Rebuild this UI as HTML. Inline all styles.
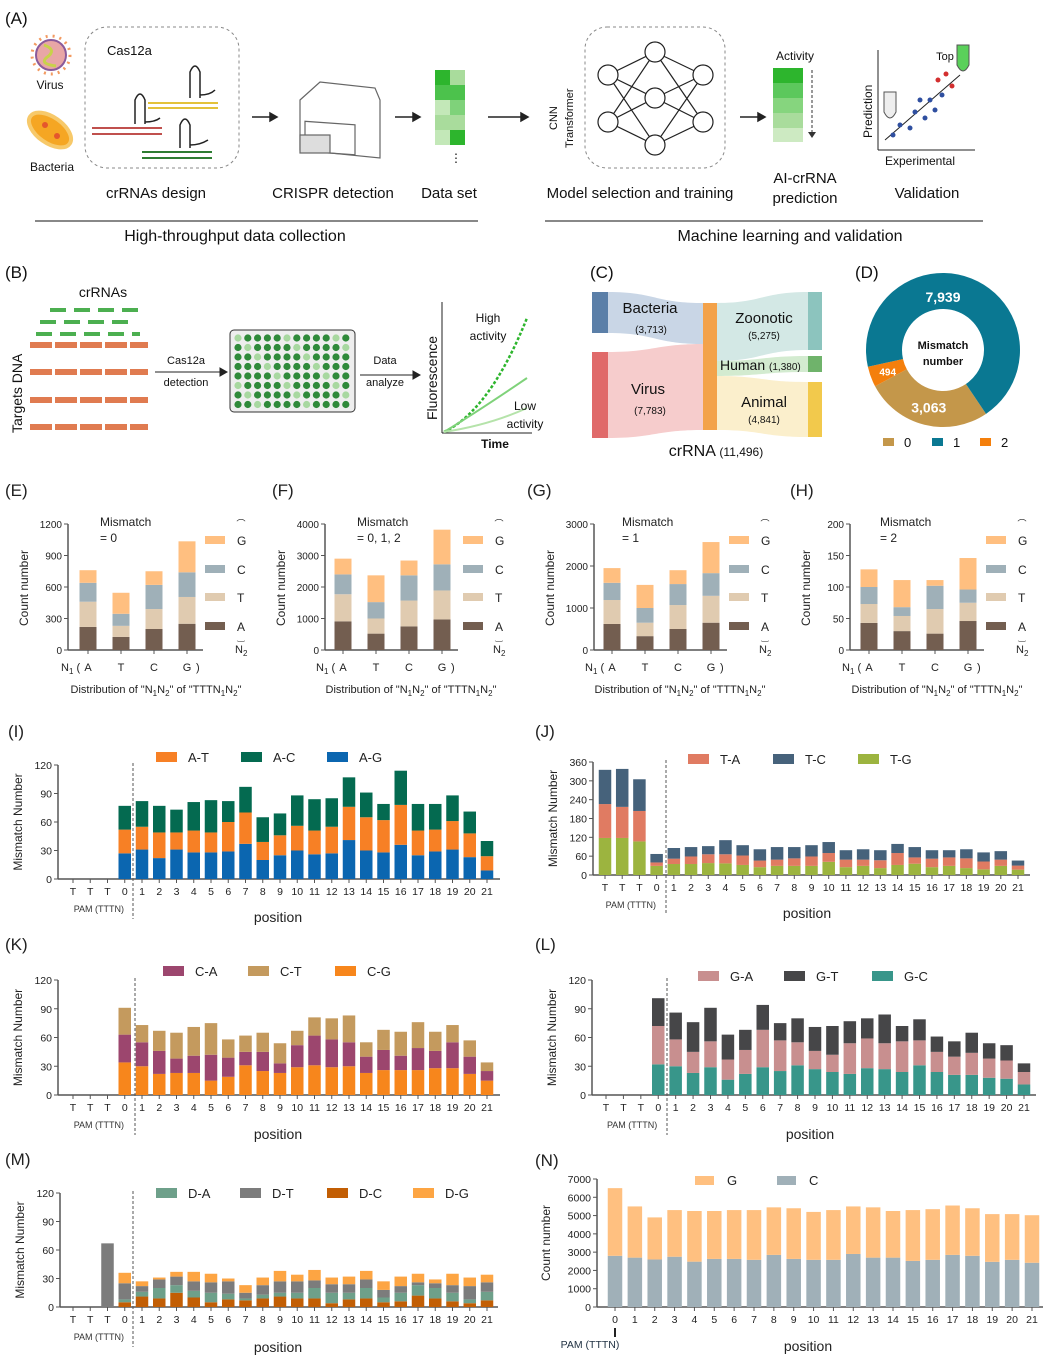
<!DOCTYPE html>
<html><head><meta charset="utf-8"><style>
html,body{margin:0;padding:0;background:#fff}
svg{display:block;font-family:"Liberation Sans",sans-serif}
</style></head><body>
<svg id="fig" xmlns="http://www.w3.org/2000/svg" width="1053" height="1365" viewBox="0 0 1053 1365">
<g id="top" font-size="15" fill="#111">
<text x="5" y="24" font-size="17">(A)</text>
<g>
<circle cx="51" cy="55" r="19" fill="none" stroke="#f39a60" stroke-width="3" stroke-dasharray="2 5"/>
<circle cx="51" cy="55" r="15" fill="#e8a6a6" stroke="#8a5a9a" stroke-width="2"/>
<path d="M44 45 Q58 50 46 58 Q40 64 56 66" stroke="#c8d24a" stroke-width="3" fill="none"/>
</g>
<text x="50" y="89" font-size="12" text-anchor="middle">Virus</text>
<g>
<ellipse cx="50" cy="130" rx="24" ry="13" transform="rotate(35 50 130)" fill="#f5a623" stroke="#f7c96a" stroke-width="4"/>
<circle cx="45" cy="125" r="3" fill="#e5572c"/><circle cx="57" cy="136" r="3" fill="#e5572c"/>
</g>
<text x="52" y="171" font-size="12" text-anchor="middle">Bacteria</text>
<rect x="85" y="27" width="154" height="141" rx="22" fill="none" stroke="#888" stroke-dasharray="3 3"/>
<text x="107" y="55" font-size="13">Cas12a</text>
<g stroke-width="2" fill="none">
<line x1="148" y1="103" x2="218" y2="103" stroke="#e3c23a"/><line x1="148" y1="108" x2="218" y2="108" stroke="#e3c23a"/>
<line x1="92" y1="128" x2="162" y2="128" stroke="#c0504d"/><line x1="92" y1="134" x2="162" y2="134" stroke="#c0504d"/>
<line x1="142" y1="152" x2="212" y2="152" stroke="#2e7d32"/><line x1="142" y1="158" x2="212" y2="158" stroke="#2e7d32"/>
<path d="M190 98 V72 Q195 60 200 72 V98 M200 95 Q210 95 215 90" stroke="#222" stroke-width="1.5"/>
<path d="M135 124 V100 Q140 88 145 100 V124 M145 122 Q155 122 160 118" stroke="#222" stroke-width="1.5"/>
<path d="M180 148 V125 Q185 113 190 125 V148 M190 145 Q200 145 208 140" stroke="#222" stroke-width="1.5"/>
</g>
<text x="156" y="198" text-anchor="middle">crRNAs design</text>
<g stroke="#222" stroke-width="1.5" fill="#222"><line x1="252" y1="117" x2="270" y2="117"/><path d="M270 113 L277 117 L270 121Z"/></g>
<g fill="none" stroke="#666" stroke-width="1.2">
<path d="M300 100 L320 82 L375 88 L380 100 L380 158 L300 150 Z"/>
<rect x="305" y="100" width="50" height="30" transform="skewY(4)"/>
<rect x="300" y="135" width="30" height="18" fill="#ddd"/>
</g>
<text x="333" y="198" text-anchor="middle">CRISPR detection</text>
<g stroke="#222" stroke-width="1.5" fill="#222"><line x1="395" y1="117" x2="413" y2="117"/><path d="M413 113 L420 117 L413 121Z"/></g>
<g>
<rect x="435" y="70" width="15" height="15" fill="#2db52d"/><rect x="450" y="70" width="15" height="15" fill="#a9dc9c"/>
<rect x="435" y="85" width="30" height="15" fill="#4cc24c"/>
<rect x="435" y="100" width="15" height="15" fill="#c3e8b8"/><rect x="450" y="100" width="15" height="15" fill="#7fd27a"/>
<rect x="435" y="115" width="30" height="15" fill="#a9dc9c"/>
<rect x="435" y="130" width="15" height="15" fill="#c3e8b8"/><rect x="450" y="130" width="15" height="15" fill="#2db52d"/>
<text x="456" y="162" font-size="12" text-anchor="middle">⋮</text>
</g>
<text x="449" y="198" text-anchor="middle">Data set</text>
<line x1="35" y1="221" x2="478" y2="221" stroke="#111"/>
<text x="235" y="241" font-size="16" text-anchor="middle">High-throughput data collection</text>
<g stroke="#222" stroke-width="1.5" fill="#222"><line x1="488" y1="117" x2="521" y2="117"/><path d="M521 113 L528 117 L521 121Z"/></g>
<text transform="translate(557,130) rotate(-90)" font-size="11">CNN</text>
<text transform="translate(573,148) rotate(-90)" font-size="11">Transformer</text>
<rect x="585" y="27" width="140" height="141" rx="22" fill="none" stroke="#888" stroke-dasharray="3 3"/>
<g id="net" fill="#fff" stroke="#222" stroke-width="1.2"></g>
<text x="640" y="198" text-anchor="middle">Model selection and training</text>
<g stroke="#222" stroke-width="1.5" fill="#222"><line x1="740" y1="117" x2="758" y2="117"/><path d="M758 113 L765 117 L758 121Z"/></g>
<text x="795" y="60" font-size="12" text-anchor="middle">Activity</text>
<g>
<rect x="773" y="68" width="30" height="15" fill="#2db52d"/><rect x="773" y="83" width="30" height="15" fill="#5cc85c"/>
<rect x="773" y="98" width="30" height="15" fill="#86d57e"/><rect x="773" y="113" width="30" height="15" fill="#a9dc9c"/>
<rect x="773" y="128" width="30" height="14" fill="#cdeac2"/></g>
<line x1="812" y1="70" x2="812" y2="132" stroke="#333" stroke-dasharray="3 2"/><path d="M808 132 L812 138 L816 132Z" fill="#333"/>
<text x="805" y="183" text-anchor="middle">AI-crRNA</text>
<text x="805" y="203" text-anchor="middle">prediction</text>
<g>
<line x1="878" y1="50" x2="878" y2="150" stroke="#222"/><line x1="878" y1="150" x2="975" y2="150" stroke="#222"/>
<line x1="885" y1="140" x2="960" y2="75" stroke="#222"/>
<g fill="#2f4fa0"><circle cx="893" cy="135" r="2.5"/><circle cx="900" cy="125" r="2.5"/><circle cx="910" cy="128" r="2.5"/><circle cx="915" cy="112" r="2.5"/><circle cx="925" cy="118" r="2.5"/><circle cx="930" cy="100" r="2.5"/><circle cx="935" cy="110" r="2.5"/><circle cx="942" cy="95" r="2.5"/><circle cx="920" cy="100" r="2.5"/></g>
<g fill="#d32f2f"><circle cx="938" cy="80" r="2.5"/><circle cx="946" cy="74" r="2.5"/><circle cx="952" cy="86" r="2.5"/></g>
<path d="M957 45 h12 v20 q-6 12 -12 0Z" fill="#5ad05a" stroke="#555"/>
<path d="M884 92 h12 v20 q-6 12 -12 0Z" fill="#eee" stroke="#555"/>
</g>
<text x="945" y="60" font-size="11" text-anchor="middle">Top</text>
<text transform="translate(872,138) rotate(-90)" font-size="12">Prediction</text>
<text x="920" y="165" font-size="12" text-anchor="middle">Experimental</text>
<text x="927" y="198" text-anchor="middle">Validation</text>
<line x1="545" y1="221" x2="983" y2="221" stroke="#111"/>
<text x="790" y="241" font-size="16" text-anchor="middle">Machine learning and validation</text>

<text x="5" y="278" font-size="17">(B)</text>
<text x="103" y="297" font-size="14" text-anchor="middle">crRNAs</text>
<g stroke="#4caf50" stroke-width="4" stroke-dasharray="16 8">
<line x1="50" y1="310" x2="140" y2="310"/><line x1="40" y1="322" x2="135" y2="322"/><line x1="36" y1="334" x2="140" y2="334"/></g>
<g stroke="#e07b50" stroke-width="6" stroke-dasharray="22 3">
<line x1="30" y1="345" x2="148" y2="345"/><line x1="30" y1="372" x2="148" y2="372"/><line x1="30" y1="400" x2="148" y2="400"/><line x1="30" y1="427" x2="148" y2="427"/></g>
<text transform="translate(22,433) rotate(-90)" font-size="14">Targets DNA</text>
<g stroke="#222" fill="#222"><line x1="155" y1="372" x2="220" y2="372"/><path d="M220 368 L227 372 L220 376Z"/></g>
<text x="186" y="364" font-size="11" text-anchor="middle">Cas12a</text>
<text x="186" y="386" font-size="11" text-anchor="middle">detection</text>
<rect x="230" y="330" width="125" height="82" rx="4" fill="#eee" stroke="#333"/>
<g id="wells"></g>
<g stroke="#222" fill="#222"><line x1="360" y1="375" x2="413" y2="375"/><path d="M413 371 L420 375 L413 379Z"/></g>
<text x="385" y="364" font-size="11" text-anchor="middle">Data</text>
<text x="385" y="386" font-size="11" text-anchor="middle">analyze</text>
<g>
<line x1="442" y1="302" x2="442" y2="433" stroke="#222"/><line x1="442" y1="433" x2="532" y2="433" stroke="#222"/>
<path d="M444 432 Q490 410 527 318" stroke="#2db52d" stroke-width="2.5" stroke-dasharray="3 2" fill="none"/>
<path d="M444 432 Q480 410 527 378" stroke="#7fd27a" stroke-width="2" fill="none"/>
<path d="M444 432 Q490 425 527 408" stroke="#b5e3aa" stroke-width="2" fill="none"/>
</g>
<text transform="translate(437,420) rotate(-90)" font-size="14">Fluorescence</text>
<text x="495" y="448" font-size="12" font-weight="bold" text-anchor="middle">Time</text>
<text x="488" y="322" font-size="12" text-anchor="middle">High</text>
<text x="488" y="340" font-size="12" text-anchor="middle">activity</text>
<text x="525" y="410" font-size="12" text-anchor="middle">Low</text>
<text x="525" y="428" font-size="12" text-anchor="middle">activity</text>

<text x="590" y="278" font-size="17">(C)</text>
<g>
<path d="M608 292 C655 292 655 303 703 303 L703 344 C655 344 655 333 608 333Z" fill="#c9d6e6"/>
<path d="M608 352 C655 352 655 344 703 344 L703 430 C655 430 655 438 608 438Z" fill="#f6cccc"/>
<path d="M717 303 C762 303 762 292 808 292 L808 350 C762 350 762 361 717 361Z" fill="#d3e8e5"/>
<path d="M717 361 C762 361 762 356 808 356 L808 372 C762 372 762 376 717 376Z" fill="#d3ebd0"/>
<path d="M717 376 C762 376 762 382 808 382 L808 437 C762 437 762 430 717 430Z" fill="#fbefcc"/>
<rect x="592" y="292" width="16" height="41" fill="#5b7fa8"/>
<rect x="592" y="352" width="16" height="86" fill="#e06a6a"/>
<rect x="703" y="303" width="14" height="127" fill="#f3a24a"/>
<rect x="808" y="292" width="14" height="58" fill="#8cc4be"/>
<rect x="808" y="356" width="14" height="16" fill="#6fb36b"/>
<rect x="808" y="382" width="14" height="55" fill="#f2c94c"/>
</g>
<text x="650" y="313" text-anchor="middle">Bacteria</text>
<text x="651" y="333" font-size="10" text-anchor="middle">(3,713)</text>
<text x="648" y="394" text-anchor="middle">Virus</text>
<text x="650" y="414" font-size="10" text-anchor="middle">(7,783)</text>
<text x="764" y="323" text-anchor="middle">Zoonotic</text>
<text x="764" y="339" font-size="10" text-anchor="middle">(5,275)</text>
<text x="720" y="370" font-size="14">Human <tspan font-size="10">(1,380)</tspan></text>
<text x="764" y="407" text-anchor="middle">Animal</text>
<text x="764" y="423" font-size="10" text-anchor="middle">(4,841)</text>
<text x="716" y="456" font-size="16" text-anchor="middle">crRNA <tspan font-size="12">(11,496)</tspan></text>

<text x="855" y="278" font-size="17">(D)</text>
<g id="donut"></g>
<text x="943" y="349" font-size="11" font-weight="bold" text-anchor="middle">Mismatch</text>
<text x="943" y="365" font-size="11" font-weight="bold" text-anchor="middle">number</text>
<g font-size="13">
<rect x="883" y="438" width="11" height="8" fill="#c4974a"/><text x="904" y="447">0</text>
<rect x="932" y="438" width="11" height="8" fill="#0a7892"/><text x="953" y="447">1</text>
<rect x="980" y="438" width="11" height="8" fill="#f47f0c"/><text x="1001" y="447">2</text></g>
</g>
<g id="charts"></g>
</svg>
<script>
const donutLabels = ['0','1','2'];
const donutValues = [3063, 7939, 494];
const n1Cats = ['A','T','C','G'];
const eA=[220,125,200,250], eT=[240,105,190,255], eC=[180,115,230,235], eG=[120,200,130,295];
const fA=[910,520,750,970], fT=[860,480,820,920], fC=[630,520,800,830], fG=[500,850,470,1100];
const gA=[620,330,500,650], gT=[570,320,570,640], gC=[410,350,500,540], gG=[350,550,330,740];
const hA=[43,30,26,46], hT=[30,24,39,29], hC=[27,14,37,21], hG=[28,43,9,50];
const eTicks=[0,300,600,900,1200], fTicks=[0,1000,2000,3000,4000], gTicks=[0,1000,2000,3000], hTicks=[0,50,100,150,200];
const posCats=['T','T','T','0','1','2','3','4','5','6','7','8','9','10','11','12','13','14','15','16','17','18','19','20','21'];
const iAG=[0,0,0,27,31,22,31,28,28,29,37,20,25,30,26,27,41,30,28,36,25,29,31,23,9];
const iAT=[0,0,0,25,24,27,18,23,21,31,33,19,21,26,25,28,35,35,34,42,26,23,30,25,15];
const iAC=[0,0,0,25,27,28,24,30,34,22,27,26,23,32,33,30,31,26,17,36,28,27,27,23,16];
const jTG=[118,118,107,29,35,35,38,37,32,25,29,29,29,42,25,29,22,32,36,25,29,22,18,29,17];
const jTA=[108,99,97,11,17,24,28,29,30,21,20,24,30,28,24,20,25,38,20,27,27,31,25,20,13];
const jTC=[109,121,101,27,34,30,26,45,33,36,40,36,36,35,30,33,32,29,33,27,23,29,29,27,16];
const kCG=[0,0,0,34,30,22,23,23,15,19,31,25,23,29,31,29,30,23,26,26,26,28,28,22,15];
const kCA=[0,0,0,29,25,24,15,18,27,20,14,20,10,23,31,29,25,17,21,15,23,18,27,18,10];
const kCT=[0,0,0,28,18,21,27,30,33,19,17,20,21,15,19,22,28,15,21,25,27,20,18,17,9];
const lGC=[0,0,0,32,30,23,29,16,22,29,25,31,27,24,22,28,27,24,31,24,21,21,18,17,11];
const lGA=[0,0,0,40,28,22,27,21,25,39,32,24,19,18,32,31,27,32,26,21,19,23,20,19,13];
const lGT=[0,0,0,29,28,31,35,26,21,26,18,25,25,30,23,21,30,16,22,16,16,21,16,16,9];
const mDC=[0,0,0,5,11,9,15,10,5,8,7,9,11,9,9,4,8,9,5,6,12,9,6,4,7];
const mDA=[0,0,0,3,5,11,8,7,10,6,2,4,4,6,11,11,7,11,5,9,11,11,9,4,9];
const mDT=[0,0,67,17,6,9,9,10,11,13,6,10,12,12,8,9,9,9,8,7,3,5,8,14,10];
const mDG=[0,0,0,11,5,2,5,10,9,3,8,8,11,7,11,7,8,9,9,10,9,4,12,9,8];
const ticks120=[0,30,60,90,120], ticks360=[0,60,120,180,240,300,360];
const nCats=['0','1','2','3','4','5','6','7','8','9','10','11','12','13','14','15','16','17','18','19','20','21'];
const nC=[2800,2700,2600,2750,2480,2630,2630,2580,2850,2630,2580,2580,2900,2700,2700,2520,2580,2850,2800,2470,2580,2420];
const nG=[3700,2800,2300,2550,2770,2620,2670,2720,2600,2770,2620,2720,2600,2750,2550,2780,2770,2700,2600,2610,2500,2600];
const nTicks=[0,1000,2000,3000,4000,5000,6000,7000];

const NS='http://www.w3.org/2000/svg';
const root=document.getElementById('charts');
function mk(tag,attrs,parent){const e=document.createElementNS(NS,tag);for(const k in attrs)e.setAttribute(k,attrs[k]);(parent||root).appendChild(e);return e;}
function txt(x,y,s,size,anchor,parent,extra){const t=mk('text',Object.assign({x:x,y:y,'font-size':size,'text-anchor':anchor||'start',fill:'#222'},extra||{}),parent);t.textContent=s;return t;}

(function(){const g=document.getElementById('net');
const L=[[[608,75],[608,122]],[[655,52],[655,98],[655,145]],[[703,75],[703,122]]];
for(let a=0;a<2;a++)for(const p of L[a])for(const q of L[a+1]){mk('line',{x1:p[0],y1:p[1],x2:q[0],y2:q[1]},g);}
for(const col of L)for(const p of col){mk('circle',{cx:p[0],cy:p[1],r:10},g);}})();
(function(){const g=document.getElementById('wells');
for(let r=0;r<8;r++)for(let c=0;c<12;c++){const w=mk('circle',{cx:238+c*9.8,cy:338+r*9.5,r:3.6,fill:((r*7+c*3)%5==0)?'#a8d8a0':'#2f8a3a'},g);

}})();
(function(){const g=document.getElementById('donut');const cx=943,cy=350,R=77,r=41;
const cols=['#c4974a','#0a7892','#f47f0c'];const tot=donutValues.reduce((a,b)=>a+b,0);
const order=[0,2,1];let ang=146;const pos={};
for(const i of order){const sw=donutValues[i]/tot*360;const a1=ang,a2=ang+sw;
const p=(A,rad)=>[cx+rad*Math.sin(A*Math.PI/180),cy-rad*Math.cos(A*Math.PI/180)];
const [x1,y1]=p(a1,R),[x2,y2]=p(a2,R),[x3,y3]=p(a2,r),[x4,y4]=p(a1,r);const lg=sw>180?1:0;
const s=mk('path',{d:`M${x1} ${y1}A${R} ${R} 0 ${lg} 1 ${x2} ${y2}L${x3} ${y3}A${r} ${r} 0 ${lg} 0 ${x4} ${y4}Z`,fill:cols[i]},g);


pos[i]=p((a1+a2)/2,(R+r)/2);ang=a2;}
const lbl=[['3,063',pos[0],14],['7,939',[943,297],14],['494',pos[2],10]];
for(const [s,p,fs] of lbl){const t=txt(p[0],p[1]+5,s,fs,'middle',g,{fill:'#fff','font-weight':'bold'});

}})();

function stacked(c){
const g=mk('g',{});
const max=c.ticks[c.ticks.length-1];const ys=v=>c.y0-(v/max)*(c.y0-c.ytop);const xs=i=>c.x0+i*c.step;
const ax=mk('line',{x1:c.axisX,y1:c.ytop,x2:c.axisX,y2:c.y0,stroke:'#555','stroke-width':1.5},g);

const bx=mk('line',{x1:c.axisX,y1:c.y0,x2:c.xEnd,y2:c.y0,stroke:'#555','stroke-width':1.5},g);

for(const t of c.ticks){mk('line',{x1:c.axisX-4,y1:ys(t),x2:c.axisX,y2:ys(t),stroke:'#555'},g);
const tl=txt(c.axisX-6,ys(t)+4,String(t),c.tickFs||11,'end',g);}
c.cats.forEach((cat,i)=>{mk('line',{x1:xs(i),y1:c.y0,x2:xs(i),y2:c.y0+4,stroke:'#555'},g);
if(c.xLabels){const tl=txt(xs(i),c.y0+16,c.xLabels[i],c.tickFs||11,'middle',g);}
let acc=0;c.series.forEach((s)=>{const v=s.vals[i];if(v>0){const r=mk('rect',{x:xs(i)-c.bw/2,y:ys(acc+v),width:c.bw,height:ys(acc)-ys(acc+v),fill:s.color},g);

}acc+=v;});});
return g;}

function posChart(o){
const g=stacked({name:o.name,x0:o.x0,step:(o.x1-o.x0)/24,bw:12.5,y0:o.y0,ytop:o.ytop,ticks:o.ticks,axisX:o.axisX,xEnd:o.xEnd,cats:posCats,xLabels:posCats,series:o.series,tickFs:10.5});
mk('line',{x1:o.dash,y1:o.ytop-2,x2:o.dash,y2:o.y0+40,stroke:'#555','stroke-dasharray':'3 2'},g);
const pm=txt(o.x0+(o.x1-o.x0)/24*1.5,o.y0+33,'PAM (TTTN)',9,'middle',g,{fill:'#333'});
const pt=txt(o.posX,o.posY,'position',14,'middle',g);
const yt=txt(0,0,'Mismatch Number',12,'middle',g,{transform:`translate(${o.axisX-36},${(o.ytop+o.y0)/2}) rotate(-90)`});
o.legend.forEach((l)=>{const r=mk('rect',{x:l[1],y:o.legY-5,width:21,height:10,fill:l[2]},g);
const t=txt(l[1]+32,o.legY+5,l[0],13,'start',g);});
const pl=txt(o.label[1],o.label[2],o.label[0],17,'start',g);}

posChart({name:'chart-i',x0:73,x1:487,y0:879,ytop:765,ticks:ticks120,axisX:58,xEnd:500,dash:133,posX:278,posY:922,legY:757,
series:[{vals:iAG,color:'#0b66b0',name:'a-g'},{vals:iAT,color:'#f78025',name:'a-t'},{vals:iAC,color:'#046a50',name:'a-c'}],
legend:[['A-T',156,'#f78025'],['A-C',241,'#046a50'],['A-G',327,'#0b66b0']],label:['(I)',8,737]});
posChart({name:'chart-j',x0:605,x1:1018,y0:875,ytop:762,ticks:ticks360,axisX:593,xEnd:1030,dash:666,posX:807,posY:918,legY:759,
series:[{vals:jTG,color:'#9cb43f',name:'t-g'},{vals:jTA,color:'#e07b62',name:'t-a'},{vals:jTC,color:'#46627b',name:'t-c'}],
legend:[['T-A',688,'#e07b62'],['T-C',773,'#46627b'],['T-G',858,'#9cb43f']],label:['(J)',535,737]});
posChart({name:'chart-k',x0:73,x1:487,y0:1095,ytop:980,ticks:ticks120,axisX:58,xEnd:500,dash:135,posX:278,posY:1139,legY:971,
series:[{vals:kCG,color:'#f7861c',name:'c-g'},{vals:kCA,color:'#9c466e',name:'c-a'},{vals:kCT,color:'#c49a5e',name:'c-t'}],
legend:[['C-A',163,'#9c466e'],['C-T',248,'#c49a5e'],['C-G',335,'#f7861c']],label:['(K)',5,950]});
posChart({name:'chart-l',x0:606,x1:1024,y0:1095,ytop:980,ticks:ticks120,axisX:592,xEnd:1036,dash:667,posX:810,posY:1139,legY:976,
series:[{vals:lGC,color:'#38968a',name:'g-c'},{vals:lGA,color:'#c88f8f',name:'g-a'},{vals:lGT,color:'#464648',name:'g-t'}],
legend:[['G-A',698,'#c88f8f'],['G-T',784,'#464648'],['G-C',872,'#38968a']],label:['(L)',535,950]});
posChart({name:'chart-m',x0:73,x1:487,y0:1307,ytop:1193,ticks:ticks120,axisX:60,xEnd:498,dash:133,posX:278,posY:1352,legY:1193,
series:[{vals:mDC,color:'#c25e04',name:'d-c'},{vals:mDA,color:'#6ea08a',name:'d-a'},{vals:mDT,color:'#7c7c7c',name:'d-t'},{vals:mDG,color:'#fda543',name:'d-g'}],
legend:[['D-A',156,'#6ea08a'],['D-T',240,'#7c7c7c'],['D-C',327,'#c25e04'],['D-G',413,'#fda543']],label:['(M)',5,1165]});

(function(){const g=stacked({name:'chart-n',x0:615,step:(1032-615)/21,bw:14.5,y0:1307,ytop:1179,ticks:nTicks,axisX:597,xEnd:1043,cats:nCats,xLabels:nCats,
series:[{vals:nC,color:'#a0b0b8',name:'c'},{vals:nG,color:'#ffc080',name:'g'}],tickFs:10.5});
mk('line',{x1:615,y1:1328,x2:615,y2:1337,stroke:'#222','stroke-width':2},g);
const pm=txt(590,1348,'PAM (TTTN)',10.5,'middle',g,{fill:'#234'});
const pt=txt(808,1351,'position',14,'middle',g);
const yt=txt(0,0,'Count number',12,'middle',g,{transform:'translate(550,1243) rotate(-90)'});
[['G',695,'#ffc080'],['C',777,'#a0b0b8']].forEach(l=>{const r=mk('rect',{x:l[1],y:1176,width:19,height:9,fill:l[2]},g);
const t=txt(l[1]+32,1185,l[0],13,'start',g);});
const pl=txt(535,1166,'(N)',17,'start',g);})();

function nChart(o){
const g=stacked({name:o.name,x0:o.x0,step:33,bw:17,y0:650,ytop:524,ticks:o.ticks,axisX:o.axisX,xEnd:o.x0+115,cats:n1Cats,xLabels:null,
series:[{vals:o.A,color:'#735e50',name:'a'},{vals:o.T,color:'#e0cbb0',name:'t'},{vals:o.C,color:'#9fb0b8',name:'c'},{vals:o.G,color:'#ffbf80',name:'g'}],tickFs:10});
n1Cats.forEach((s,i)=>{const t=txt(o.x0+i*33,671,s,11,'middle',g);});
const n1=txt(o.x0-27,671,'N',11,'start',g);n1.innerHTML='N<tspan font-size="8" dy="3">1</tspan><tspan dy="-3"> (</tspan>';

txt(o.x0+108,671,')',11,'start',g);
const d=txt(o.x0+68,693,'',11,'middle',g);d.innerHTML='Distribution of "N<tspan font-size="8" dy="3">1</tspan><tspan dy="-3">N</tspan><tspan font-size="8" dy="3">2</tspan><tspan dy="-3">" of "TTTN</tspan><tspan font-size="8" dy="3">1</tspan><tspan dy="-3">N</tspan><tspan font-size="8" dy="3">2</tspan><tspan dy="-3">"</tspan>';

const yt=txt(0,0,'Count number',12,'middle',g,{transform:`translate(${o.axisX-40},588) rotate(-90)`});
const m1=txt(o.tx,526,'Mismatch',12,'start',g);
const m2=txt(o.tx,542,o.mm,12,'start',g);
[['G','#ffbf80',540],['C','#9fb0b8',569],['T','#e0cbb0',597],['A','#735e50',626]].forEach(l=>{const r=mk('rect',{x:o.lx,y:l[2]-4,width:20,height:8,fill:l[1]},g);
const t=txt(o.lx+32,l[2]+5,l[0],12,'start',g);});
txt(o.lx+36,527,'⌒',9,'middle',g);txt(o.lx+36,640,'‿',9,'middle',g);
const n2=txt(o.lx+30,653,'',11,'start',g);n2.innerHTML='N<tspan font-size="8" dy="3">2</tspan>';
const pl=txt(o.px,496,o.pl,17,'start',g);}
nChart({name:'chart-e',x0:88,axisX:68,ticks:eTicks,A:eA,T:eT,C:eC,G:eG,tx:100,mm:'= 0',lx:205,px:5,pl:'(E)'});
nChart({name:'chart-f',x0:343,axisX:325,ticks:fTicks,A:fA,T:fT,C:fC,G:fG,tx:357,mm:'= 0, 1, 2',lx:463,px:272,pl:'(F)'});
nChart({name:'chart-g',x0:612,axisX:594,ticks:gTicks,A:gA,T:gT,C:gC,G:gG,tx:622,mm:'= 1',lx:729,px:527,pl:'(G)'});
nChart({name:'chart-h',x0:869,axisX:850,ticks:hTicks,A:hA,T:hT,C:hC,G:hG,tx:880,mm:'=  2',lx:986,px:790,pl:'(H)'});
</script>
</body></html>
